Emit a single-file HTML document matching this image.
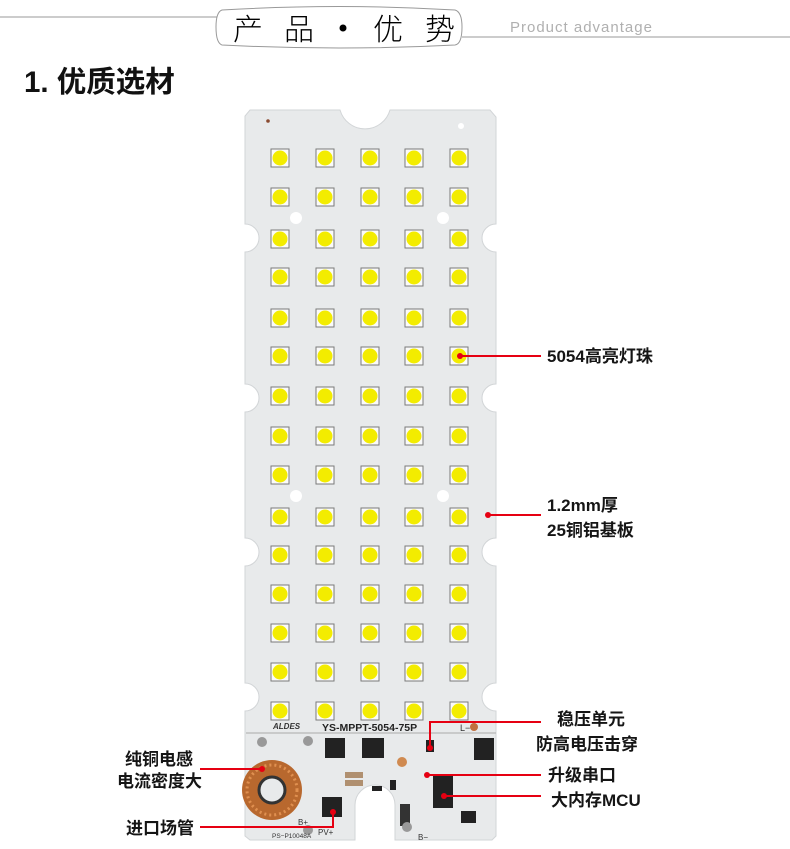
<!DOCTYPE html>
<html><head><meta charset="utf-8">
<style>
html,body{margin:0;padding:0;background:#fff;}
svg{display:block;}
.t{font-family:"Liberation Sans","Noto Sans CJK SC",sans-serif;font-size:17px;fill:#151515;font-weight:bold;}
</style></head><body>
<svg width="790" height="849" viewBox="0 0 790 849" xmlns="http://www.w3.org/2000/svg">
<defs>
<g id="led">
<rect x="-9" y="-9" width="18" height="18" fill="#fafafa" stroke="#7a7a7a" stroke-width="1"/>
<circle r="7.5" fill="#f3ec00"/>
</g>
<g id="row">
<use href="#led" x="280"/><use href="#led" x="325"/><use href="#led" x="370"/><use href="#led" x="414"/><use href="#led" x="459"/>
</g>
</defs>
<!-- header -->
<line x1="0" y1="17" x2="217" y2="17" stroke="#999" stroke-width="1"/>
<path d="M222,10 Q340,3 455,10 Q462,12 462,27 Q462,44 455,45 Q340,51 222,45 Q216,43 216,27 Q216,12 222,10 Z" fill="#fff" stroke="#999" stroke-width="1"/>
<line x1="462" y1="37" x2="790" y2="37" stroke="#999" stroke-width="1"/>
<g font-family="'Noto Sans CJK SC',sans-serif" font-size="30" font-weight="300" fill="#000">
<text x="233" y="40">产</text>
<text x="284" y="40">品</text>
<text x="373" y="40">优</text>
<text x="425" y="40">势</text>
</g>
<circle cx="343" cy="28" r="3.5" fill="#000"/>
<text x="510" y="32" font-family="'Liberation Sans Narrow','Liberation Sans',sans-serif" font-size="15" fill="#b0b0b0" letter-spacing="1">Product advantage</text>
<text x="24" y="92" font-family="'Liberation Sans','Noto Sans CJK SC',sans-serif" font-size="29.5" font-weight="bold" fill="#111">1. 优质选材</text>
<!-- board -->
<path d="M250,110 L340,110 A26,26 0 0 0 390,110 L490,110 L496,117 L496,224 A14,14 0 0 0 496,252 L496,384 A14,14 0 0 0 496,412 L496,538 A14,14 0 0 0 496,566 L496,683 A14,14 0 0 0 496,711 L496,836 L492,840 L395,840 L395,805 A20,20 0 0 0 355,805 L355,840 L250,840 L245,836 L245,711 A14,14 0 0 0 245,683 L245,566 A14,14 0 0 0 245,538 L245,412 A14,14 0 0 0 245,384 L245,252 A14,14 0 0 0 245,224 L245,116 Z" fill="#e8eaeb" stroke="#d2d5d7" stroke-width="1"/>
<circle cx="268" cy="121" r="1.8" fill="#8a4a30"/>
<circle cx="461" cy="126" r="3" fill="#fff"/>
<circle cx="296" cy="218" r="6" fill="#fff"/><circle cx="443" cy="218" r="6" fill="#fff"/>
<circle cx="296" cy="496" r="6" fill="#fff"/><circle cx="443" cy="496" r="6" fill="#fff"/>
<use href="#row" y="158"/><use href="#row" y="197"/><use href="#row" y="239"/><use href="#row" y="277"/><use href="#row" y="318"/>
<use href="#row" y="356"/><use href="#row" y="396"/><use href="#row" y="436"/><use href="#row" y="475"/><use href="#row" y="517"/>
<use href="#row" y="555"/><use href="#row" y="594"/><use href="#row" y="633"/><use href="#row" y="672"/><use href="#row" y="711"/>
<!-- bottom circuit -->
<line x1="246" y1="733" x2="496" y2="733" stroke="#aaa" stroke-width="1"/>
<text x="273" y="729" font-family="'Liberation Sans',sans-serif" font-size="8" font-style="italic" font-weight="bold" fill="#333">ALDES</text>
<text x="322" y="731" font-family="'Liberation Sans',sans-serif" font-size="10.5" font-weight="bold" fill="#222">YS-MPPT-5054-75P</text>
<text x="460" y="731" font-family="'Liberation Sans',sans-serif" font-size="9" fill="#333">L−</text>
<circle cx="474" cy="727" r="4" fill="#c07040"/>
<circle cx="262" cy="742" r="5" fill="#999"/><circle cx="308" cy="741" r="5" fill="#999"/>
<circle cx="272" cy="790" r="30" fill="#b8682e"/>
<circle cx="272" cy="790" r="25" fill="none" stroke="#e09050" stroke-width="3" stroke-dasharray="2 3"/>
<circle cx="272" cy="790" r="13" fill="#e8eaeb" stroke="#333" stroke-width="3"/>
<rect x="325" y="738" width="20" height="20" fill="#222"/>
<rect x="362" y="738" width="22" height="20" fill="#222"/>
<rect x="474" y="738" width="20" height="22" fill="#222"/>
<rect x="322" y="797" width="20" height="20" fill="#222"/>
<rect x="426" y="740" width="8" height="12" fill="#222"/>
<rect x="433" y="776" width="20" height="32" fill="#222"/>
<rect x="461" y="811" width="15" height="12" fill="#222"/>
<rect x="400" y="804" width="10" height="22" fill="#333"/>
<rect x="345" y="772" width="18" height="6" fill="#b09070"/>
<rect x="345" y="780" width="18" height="6" fill="#b09070"/>
<rect x="390" y="780" width="6" height="10" fill="#222"/>
<rect x="372" y="786" width="10" height="5" fill="#222"/>
<circle cx="402" cy="762" r="5" fill="#d08a50"/>
<circle cx="308" cy="830" r="5" fill="#999"/><circle cx="407" cy="827" r="5" fill="#999"/>
<text x="272" y="838" font-family="'Liberation Sans',sans-serif" font-size="6.5" fill="#333">PS−P10048A</text>
<text x="318" y="835" font-family="'Liberation Sans',sans-serif" font-size="8" fill="#333">PV+</text>
<text x="298" y="825" font-family="'Liberation Sans',sans-serif" font-size="8" fill="#333">B+</text>
<text x="418" y="840" font-family="'Liberation Sans',sans-serif" font-size="8" fill="#333">B−</text>
<!-- callouts -->
<g stroke="#e60012" stroke-width="2" fill="none">
<line x1="460" y1="356" x2="541" y2="356"/>
<line x1="488" y1="515" x2="541" y2="515"/>
<polyline points="430,748 430,722 541,722"/>
<line x1="427" y1="775" x2="541" y2="775"/>
<line x1="444" y1="796" x2="541" y2="796"/>
<line x1="200" y1="769" x2="262" y2="769"/>
<polyline points="200,827 333,827 333,812"/>
</g>
<g fill="#e60012">
<circle cx="460" cy="356" r="3"/><circle cx="488" cy="515" r="3"/><circle cx="430" cy="748" r="3"/>
<circle cx="427" cy="775" r="3"/><circle cx="444" cy="796" r="3"/><circle cx="262" cy="769" r="3"/><circle cx="333" cy="812" r="3"/>
</g>
<text class="t" x="547" y="362">5054高亮灯珠</text>
<text class="t" x="547" y="511">1.2mm厚</text>
<text class="t" x="547" y="536">25铜铝基板</text>
<text class="t" x="557" y="725">稳压单元</text>
<text class="t" x="536" y="750">防高电压击穿</text>
<text class="t" x="548" y="781">升级串口</text>
<text class="t" x="551" y="806">大内存MCU</text>
<text class="t" x="125" y="765">纯铜电感</text>
<text class="t" x="117" y="787">电流密度大</text>
<text class="t" x="126" y="834">进口场管</text>
</svg>
</body></html>
